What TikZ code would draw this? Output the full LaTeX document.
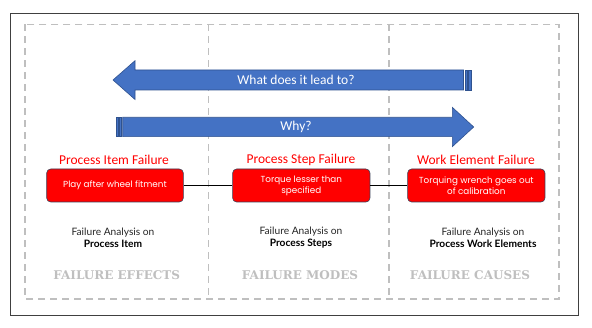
\documentclass[tikz,border=0pt]{standalone}
\usepackage{fontspec}
\setmainfont{Carlito}
\newfontfamily\boxfont{Poppins}
\newfontfamily\labfont{Lato}
\newfontfamily\slabfont{DejaVu Serif}
\definecolor{arrblue}{HTML}{4472C4}
\definecolor{arredge}{HTML}{2F528F}
\definecolor{dashgray}{HTML}{BFBFBF}
\definecolor{framegray}{HTML}{404040}
\definecolor{boxedge}{HTML}{3A3F55}
\definecolor{labgray}{HTML}{262626}
\tikzset{
  arrowshape/.style={fill=arrblue, draw=arredge, line width=0.6pt},
  failbox/.style={rectangle, rounded corners=4pt, fill=red, draw=boxedge, line width=0.6pt,
    minimum height=33pt, text=white, font=\boxfont\fontsize{8.8}{11}\selectfont, align=center, inner sep=2pt},
  redhead/.style={text=red, font=\fontsize{13.5}{15}\selectfont},
  analysis/.style={font=\labfont\fontsize{10.2}{12}\selectfont, text=labgray, align=center},
  category/.style={font=\slabfont\bfseries\fontsize{12}{14}\selectfont, text=dashgray},
  dashline/.style={draw=dashgray, line width=1.4pt, dash pattern=on 7pt off 5pt},
  link/.style={draw=black, line width=1.2pt}
}
\begin{document}
\begin{tikzpicture}[x=1pt,y=-1pt]
\useasboundingbox (0,0) rectangle (592,328);
% outer frame
\draw[framegray, line width=0.9pt] (10.5,13.7) rectangle (578,315);
% dashed frame and dividers
\draw[dashline] (25,24.3) rectangle (559,299);
\draw[dashline] (208.7,24.3) -- (208.7,299);
\draw[dashline] (389,24.3) -- (389,299);
% left arrow
\draw[arrowshape] (113,80) -- (135,60.7) -- (135,70) -- (463.5,70) -- (463.5,90) -- (135,90) -- (135,99.5) -- cycle;
\draw[arrowshape] (465,70) rectangle (467,90);
\draw[arrowshape] (468.5,70) rectangle (471.5,90);
\node[text=white, font=\fontsize{13.5}{15}\selectfont] (lead) at (296,80) {What does it lead to?};
% right arrow
\draw[arrowshape] (116,117.3) rectangle (117.8,136.7);
\draw[arrowshape] (119.2,117.3) rectangle (121.2,136.7);
\draw[arrowshape] (122.7,117.3) -- (452.3,117.3) -- (452.3,107.3) -- (473.7,127) -- (452.3,146.7) -- (452.3,136.7) -- (122.7,136.7) -- cycle;
\node[text=white, font=\fontsize{13.5}{15}\selectfont] (why) at (296,127) {Why?};
% headings
\node[redhead] (h1) at (114,160) {Process Item Failure};
\node[redhead] (h2) at (301,160) {Process Step Failure};
\node[redhead] (h3) at (476,160) {Work Element Failure};
% boxes
\node[failbox, minimum width=136.6pt] (b1) at (115,185.5) {Play after wheel fitment};
\node[failbox, minimum width=137.3pt] (b2) at (301.3,185.5) {Torque lesser than\\specified};
\node[failbox, minimum width=137.3pt] (b3) at (476.3,185.5) {Torquing wrench goes out\\of calibration};
\draw[link] (b1.east) -- (b2.west);
\draw[link] (b2.east) -- (b3.west);
% analysis labels
\node[analysis] (a1) at (113,238) {Failure Analysis on\\\textcolor{black}{\bfseries Process Item}};
\node[analysis] (a2) at (301,238) {Failure Analysis on\\\textcolor{black}{\bfseries Process Steps}};
\node[analysis] (a3) at (483,238) {Failure Analysis on\\\textcolor{black}{\bfseries Process Work Elements}};
% categories
\node[category] (c1) at (116.7,275) {FAILURE EFFECTS};
\node[category] (c2) at (300,275) {FAILURE MODES};
\node[category] (c3) at (470,275) {FAILURE CAUSES};
\end{tikzpicture}
\end{document}
